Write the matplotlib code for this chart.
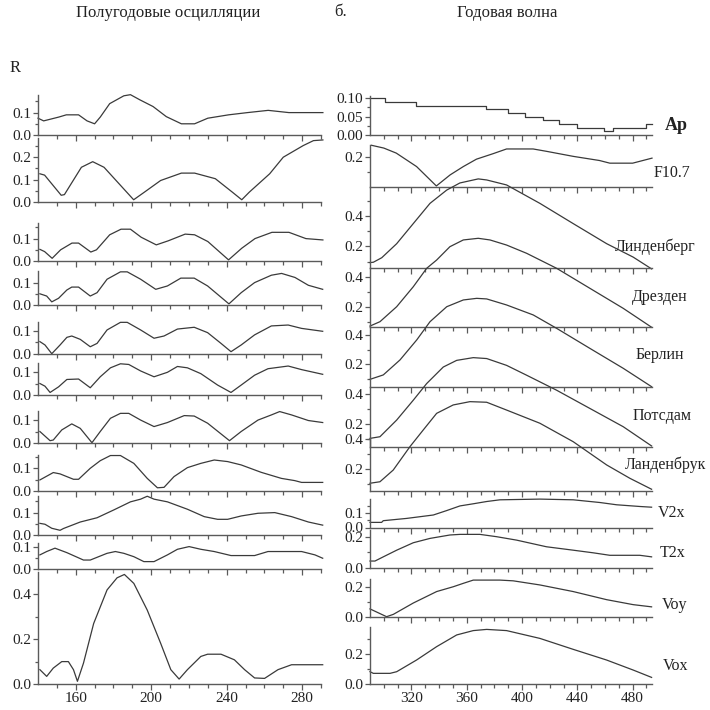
import matplotlib
matplotlib.use('Agg')
import matplotlib.pyplot as plt
from matplotlib.ticker import FixedLocator, FormatStrFormatter

plt.rcParams['font.family'] = ['Liberation Serif', 'DejaVu Serif']

# ---- data: left column, semi-annual oscillations (x = day number) ----
semi_ap_x = [140, 143, 151, 155, 161.5, 166, 170, 173, 178, 185.5, 189, 194, 201, 208, 216, 223, 230, 241, 251, 262, 273, 291]
semi_ap = [0.075, 0.063, 0.08, 0.09, 0.09, 0.063, 0.05, 0.08, 0.14, 0.175, 0.18, 0.157, 0.127, 0.082, 0.05, 0.05, 0.075, 0.09, 0.1, 0.11, 0.1, 0.1]

semi_f107_x = [141, 143.5, 152.3, 154, 163, 169, 175, 190.7, 196.4, 205, 216, 223, 234, 243, 248, 252, 262.8, 270, 280.6, 286, 291]
semi_f107 = [0.126, 0.12, 0.03, 0.033, 0.155, 0.18, 0.155, 0.01, 0.044, 0.096, 0.129, 0.129, 0.104, 0.044, 0.01, 0.044, 0.126, 0.2, 0.252, 0.274, 0.277]

semi_lin_x = [141, 143.5, 147.5, 152, 158, 161.5, 168, 171, 178, 184, 189, 194.7, 202.7, 209, 218, 223, 230, 241, 248, 255, 264, 273, 282, 291]
semi_lin = [0.052, 0.042, 0.012, 0.05, 0.08, 0.08, 0.04, 0.05, 0.117, 0.142, 0.142, 0.106, 0.072, 0.09, 0.12, 0.117, 0.087, 0.005, 0.057, 0.1, 0.128, 0.128, 0.1, 0.094]

semi_dre_x = [141, 144.6, 147.3, 150.9, 155.3, 157.9, 161.5, 167.7, 171.3, 176.6, 183.7, 187.3, 194.4, 202.4, 208.6, 215.7, 222.8, 229.9, 241.2, 247.7, 254.8, 263.7, 269.1, 276.2, 283.3, 290.9]
semi_dre = [0.05, 0.04, 0.014, 0.03, 0.067, 0.08, 0.08, 0.04, 0.055, 0.115, 0.148, 0.148, 0.115, 0.07, 0.085, 0.12, 0.12, 0.085, 0.005, 0.055, 0.1, 0.133, 0.141, 0.123, 0.088, 0.07]

semi_ber_x = [141, 143.7, 147.3, 151.7, 155.3, 157.9, 162.4, 167.7, 171.3, 176.6, 183.7, 187.3, 194.4, 201.5, 206.8, 213.9, 222.8, 229.9, 237, 242.3, 247.7, 254.8, 263.7, 272.6, 279.7, 290.9]
semi_ber = [0.054, 0.039, 0.0, 0.039, 0.073, 0.079, 0.064, 0.031, 0.046, 0.106, 0.14, 0.14, 0.106, 0.069, 0.079, 0.11, 0.118, 0.094, 0.046, 0.009, 0.039, 0.084, 0.124, 0.128, 0.113, 0.1]

semi_pot_x = [141, 143.7, 146.4, 150.9, 155.3, 161.5, 167.7, 173, 178.4, 183.7, 188.1, 194.4, 201.5, 208.6, 213.9, 219.2, 226.3, 235.2, 242.3, 247.7, 254.8, 261.9, 272.6, 279.7, 290.9]
semi_pot = [0.05, 0.038, 0.01, 0.035, 0.068, 0.07, 0.031, 0.08, 0.12, 0.138, 0.135, 0.106, 0.08, 0.1, 0.126, 0.12, 0.094, 0.043, 0.01, 0.043, 0.087, 0.116, 0.128, 0.112, 0.091]

semi_lan_x = [141, 146.4, 148.1, 152.6, 157.9, 162.4, 168.6, 173, 178.4, 183.7, 188.1, 194.4, 201.5, 208.6, 217.5, 222.8, 229.9, 241.5, 247.7, 256.6, 263.7, 268.1, 274.4, 283.3, 290.9]
semi_lan = [0.05, 0.009, 0.012, 0.057, 0.084, 0.064, 0.0, 0.05, 0.109, 0.131, 0.131, 0.101, 0.072, 0.09, 0.121, 0.119, 0.087, 0.009, 0.05, 0.101, 0.124, 0.139, 0.124, 0.099, 0.09]

semi_v2x_x = [141, 148.1, 151.7, 158.8, 161.5, 167.7, 173, 178.4, 183.7, 190.8, 197.9, 203.3, 206.8, 212.1, 219.2, 226.3, 233.4, 240.5, 247.7, 258.3, 269, 276.1, 279.7, 290.9]
semi_v2x = [0.048, 0.081, 0.075, 0.051, 0.051, 0.1, 0.134, 0.157, 0.157, 0.122, 0.055, 0.013, 0.015, 0.063, 0.103, 0.122, 0.137, 0.13, 0.115, 0.082, 0.055, 0.045, 0.037, 0.037]

semi_t2x_x = [141, 143.7, 147.3, 151.7, 153.5, 162.4, 171.3, 180.2, 189, 194.4, 197.9, 201.5, 208.6, 219.2, 228.1, 235.2, 240.5, 247.7, 256.6, 265.5, 274.4, 283.3, 290.9]
semi_t2x = [0.052, 0.048, 0.03, 0.021, 0.029, 0.058, 0.077, 0.112, 0.148, 0.16, 0.173, 0.16, 0.148, 0.115, 0.082, 0.07, 0.07, 0.085, 0.097, 0.1, 0.082, 0.058, 0.044]

semi_voy_x = [141, 144.6, 149, 155.3, 164.1, 167.7, 176.6, 181, 185.5, 190.8, 196.1, 201.5, 208.6, 213.9, 220.1, 226.3, 233.4, 242.3, 254.8, 261.9, 279.7, 286.8, 290.9]
semi_voy = [0.063, 0.078, 0.093, 0.073, 0.04, 0.04, 0.07, 0.078, 0.07, 0.055, 0.033, 0.033, 0.063, 0.088, 0.1, 0.088, 0.078, 0.06, 0.06, 0.078, 0.078, 0.063, 0.048]

semi_vox_x = [141, 144.6, 148.1, 152.6, 156.1, 158.8, 160.9, 164.1, 169.5, 176.6, 181.9, 185.8, 190.8, 197.9, 205, 210.4, 214.8, 219.2, 226.3, 229.9, 237, 244.1, 249.5, 254.8, 260.1, 267.2, 274.4, 290.9]
semi_vox = [0.064, 0.034, 0.071, 0.1, 0.1, 0.064, 0.012, 0.093, 0.27, 0.42, 0.474, 0.489, 0.449, 0.33, 0.182, 0.064, 0.022, 0.064, 0.123, 0.133, 0.133, 0.108, 0.064, 0.027, 0.025, 0.064, 0.086, 0.086]

# ---- data: right column, annual wave ----
ann_ap_edges = [290, 301, 323, 374, 390, 402, 415, 427, 440, 459, 466, 490, 494]
ann_ap = [0.10, 0.09, 0.08, 0.07, 0.06, 0.05, 0.04, 0.03, 0.02, 0.01, 0.02, 0.03]

ann_f107_x = [291, 300, 309, 323.7, 338, 348, 357.5, 367, 379, 388.8, 408, 417.7, 437, 456, 463.5, 480, 494]
ann_f107 = [0.28, 0.261, 0.227, 0.136, 0.005, 0.08, 0.136, 0.186, 0.223, 0.255, 0.255, 0.239, 0.205, 0.177, 0.159, 0.159, 0.193]

ann_lin_x = [290, 292.4, 298.5, 309.3, 321.3, 333.4, 345.5, 355, 368.3, 374.4, 388.8, 412.9, 437, 461.2, 480.4, 493.7]
ann_lin = [0.093, 0.095, 0.125, 0.218, 0.351, 0.485, 0.573, 0.62, 0.647, 0.64, 0.607, 0.485, 0.351, 0.218, 0.129, 0.051]

ann_dre_x = [290, 297.2, 309.3, 321.3, 331, 338.2, 347.8, 357.5, 368.3, 376.8, 388.8, 403.3, 425, 449, 473.2, 493.7]
ann_dre = [0.075, 0.104, 0.204, 0.337, 0.46, 0.515, 0.604, 0.649, 0.66, 0.649, 0.615, 0.56, 0.46, 0.327, 0.193, 0.067]

ann_ber_x = [290, 299.6, 311.7, 323.8, 333.4, 345.5, 357.5, 367.2, 374.4, 388.8, 408.1, 425, 449, 473.2, 493.7]
ann_ber = [0.097, 0.127, 0.229, 0.365, 0.489, 0.591, 0.637, 0.648, 0.644, 0.603, 0.535, 0.444, 0.308, 0.172, 0.047]

ann_pot_x = [290, 297.2, 309.3, 321.3, 331, 343, 352.7, 364.7, 374.4, 388.8, 403.3, 425, 449, 473.2, 493.7]
ann_pot = [0.107, 0.118, 0.228, 0.359, 0.469, 0.578, 0.622, 0.64, 0.634, 0.589, 0.524, 0.425, 0.305, 0.184, 0.057]

ann_lan_x = [290, 297.2, 306.8, 318.9, 328.5, 338.2, 350.2, 362.3, 374.4, 388.8, 412.9, 437, 461.2, 478, 493.7]
ann_lan = [0.105, 0.115, 0.193, 0.349, 0.46, 0.571, 0.627, 0.649, 0.645, 0.593, 0.505, 0.382, 0.227, 0.138, 0.065]

ann_v2x_x = [290, 298.4, 299.6, 316.5, 335.8, 345.4, 355.1, 364.7, 374.4, 384, 412.9, 437, 456.3, 468.4, 485.2, 493.7]
ann_v2x = [0.036, 0.036, 0.048, 0.064, 0.088, 0.119, 0.152, 0.167, 0.183, 0.195, 0.2, 0.195, 0.176, 0.16, 0.148, 0.143]

ann_t2x_x = [290, 293.6, 299.6, 309.3, 321.3, 333.4, 347.8, 355.1, 369.5, 381.6, 396, 417.7, 437, 451.5, 463.5, 485.2, 493.7]
ann_t2x = [0.043, 0.043, 0.07, 0.113, 0.161, 0.189, 0.211, 0.215, 0.215, 0.2, 0.178, 0.135, 0.113, 0.096, 0.08, 0.08, 0.07]

ann_voy_x = [290, 302, 306.9, 321.3, 338.2, 350.3, 357.5, 364.7, 384, 393.6, 412.9, 437, 461.1, 480.4, 493.7]
ann_voy = [0.053, 0.0, 0.016, 0.093, 0.171, 0.204, 0.227, 0.249, 0.249, 0.244, 0.216, 0.171, 0.116, 0.082, 0.067]

ann_vox_x = [290, 292.4, 304.5, 309.3, 323.7, 338.2, 352.7, 364.7, 374.4, 388.8, 412.9, 437, 461.1, 480.4, 493.7]
ann_vox = [0.082, 0.071, 0.071, 0.082, 0.16, 0.249, 0.327, 0.356, 0.364, 0.356, 0.304, 0.231, 0.16, 0.093, 0.044]

series_names = ['Ap', 'F10.7', 'Линденберг', 'Дрезден', 'Берлин', 'Потсдам',
                'Ланденбрук', 'V2x', 'T2x', 'Voy', 'Vox']

left_series = [(semi_ap_x, semi_ap), (semi_f107_x, semi_f107), (semi_lin_x, semi_lin),
               (semi_dre_x, semi_dre), (semi_ber_x, semi_ber), (semi_pot_x, semi_pot),
               (semi_lan_x, semi_lan), (semi_v2x_x, semi_v2x), (semi_t2x_x, semi_t2x),
               (semi_voy_x, semi_voy), (semi_vox_x, semi_vox)]
right_series = [None, (ann_f107_x, ann_f107), (ann_lin_x, ann_lin), (ann_dre_x, ann_dre),
                (ann_ber_x, ann_ber), (ann_pot_x, ann_pot), (ann_lan_x, ann_lan),
                (ann_v2x_x, ann_v2x), (ann_t2x_x, ann_t2x), (ann_voy_x, ann_voy),
                (ann_vox_x, ann_vox)]

# ---- layout (pixels of a 710x710 figure): zero line y, px per unit, ylim, ticks ----
W = 710.0
LEFT_X = (38, 321)
RIGHT_X = (370, 652)
left_rows = [
    (135, 224, 0, 0.18, [0, 0.1], [0.05, 0.15]),
    (202, 224, 0, 0.285, [0, 0.1, 0.2], [0.05, 0.15, 0.25]),
    (261, 224, 0, 0.17, [0, 0.1], [0.05, 0.15]),
    (305, 224, 0, 0.15, [0, 0.1], [0.05]),
    (353.7, 224, 0, 0.14, [0, 0.1], [0.05]),
    (394.7, 224, 0, 0.14, [0, 0.1], [0.05]),
    (442.7, 224, 0, 0.14, [0, 0.1], [0.05]),
    (490.7, 224, 0, 0.16, [0, 0.1], [0.05, 0.15]),
    (535, 224, 0, 0.175, [0, 0.1], [0.05, 0.15]),
    (569, 224, 0, 0.115, [0, 0.1], [0.05]),
    (684, 224, 0, 0.5, [0, 0.2, 0.4], [0.1, 0.3]),
]
right_rows = [
    (135, 367, 0, 0.105, [0, 0.05, 0.1], [0.025, 0.075]),
    (186.7, 148, 0, 0.28, [0.2], [0.1]),
    (276.6, 151, 0.055, 0.595, [0.2, 0.4], [0.1, 0.3, 0.5]),
    (337.3, 150, 0.067, 0.46, [0.2, 0.4], [0.1, 0.3]),
    (393.6, 147, 0.043, 0.451, [0.2, 0.4], [0.1, 0.3]),
    (454.6, 151.5, 0.052, 0.444, [0.2, 0.4], [0.1, 0.3]),
    (499, 150, 0.055, 0.4, [0.2, 0.4], [0.1, 0.3]),
    (527.5, 142, 0, 0.2, [0, 0.1], [0.05, 0.15]),
    (567.7, 155, 0, 0.243, [0, 0.2], [0.1]),
    (616.7, 147, 0, 0.254, [0, 0.2], [0.1]),
    (684, 150, 0, 0.382, [0, 0.2], [0.1, 0.3]),
]
label_pos = [(676, 125), (672, 173), (655, 247), (660, 297), (660, 355), (662, 416),
             (666, 465), (672, 513), (673, 553), (675, 605), (676, 666)]

LINE = '#3a3a3a'
AXC = '#5a5a5a'
TXT = '#222222'

fig = plt.figure(figsize=(7.1, 7.1), dpi=100)


def make_axes(xpix, row, xlim, xmaj, xmin_ticks, fmt, show_xlabels):
    y0, ppu, ymin, ymax, ymaj, yminor = row
    bottom = y0 - ymin * ppu
    top = y0 - ymax * ppu
    ax = fig.add_axes([xpix[0] / W, 1 - bottom / W, (xpix[1] - xpix[0]) / W, (bottom - top) / W])
    ax.patch.set_alpha(0)
    ax.set_xlim(*xlim)
    ax.set_ylim(ymin, ymax)
    for s in ['top', 'right']:
        ax.spines[s].set_visible(False)
    for s in ['left', 'bottom']:
        ax.spines[s].set_color(AXC)
        ax.spines[s].set_linewidth(1.0)
    ax.xaxis.set_major_locator(FixedLocator(xmaj))
    ax.xaxis.set_minor_locator(FixedLocator(xmin_ticks))
    ax.yaxis.set_major_locator(FixedLocator(ymaj))
    ax.yaxis.set_minor_locator(FixedLocator(yminor))
    ax.yaxis.set_major_formatter(FormatStrFormatter(fmt))
    ax.tick_params(axis='both', which='both', direction='out', color=AXC, width=0.9,
                   labelsize=11, labelcolor=TXT, pad=1.5)
    ax.tick_params(axis='x', which='major', length=4.5)
    ax.tick_params(axis='x', which='minor', length=3)
    ax.tick_params(axis='y', which='major', length=3.5)
    ax.tick_params(axis='y', which='minor', length=2)
    if not show_xlabels:
        ax.tick_params(axis='x', labelbottom=False)
    return ax


n = len(left_rows)
for i in range(n):
    # left: semi-annual
    ax = make_axes(LEFT_X, left_rows[i], (140, 290), [160, 200, 240, 280],
                   list(range(150, 291, 10)), '%.1f', i == n - 1)
    x, y = left_series[i]
    ax.plot(x, y, color=LINE, lw=0.9, clip_on=False)

    # right: annual
    fmt = '%.2f' if i == 0 else '%.1f'
    ax = make_axes(RIGHT_X, right_rows[i], (290, 494), [320, 360, 400, 440, 480],
                   list(range(300, 491, 10)), fmt, i == n - 1)
    if i == 0:
        ax.step(ann_ap_edges, ann_ap + [ann_ap[-1]], where='post', color=LINE, lw=0.9, clip_on=False)
    else:
        x, y = right_series[i]
        ax.plot(x, y, color=LINE, lw=0.9, clip_on=False)
    lx, ly = label_pos[i]
    fig.text(lx / W, 1 - ly / W, series_names[i], ha='center', va='center',
             fontsize=13 if i == 0 else 11.5, fontweight='bold' if i == 0 else 'normal', color=TXT)

fig.text(168 / W, 1 - 13 / W, 'Полугодовые осцилляции', ha='center', va='center', fontsize=12, color=TXT)
fig.text(341 / W, 1 - 12 / W, 'б.', ha='center', va='center', fontsize=12, color=TXT)
fig.text(507 / W, 1 - 13 / W, 'Годовая волна', ha='center', va='center', fontsize=12, color=TXT)
fig.text(15 / W, 1 - 68 / W, 'R', ha='center', va='center', fontsize=12, color=TXT)

fig.savefig('out.png', dpi=100)
